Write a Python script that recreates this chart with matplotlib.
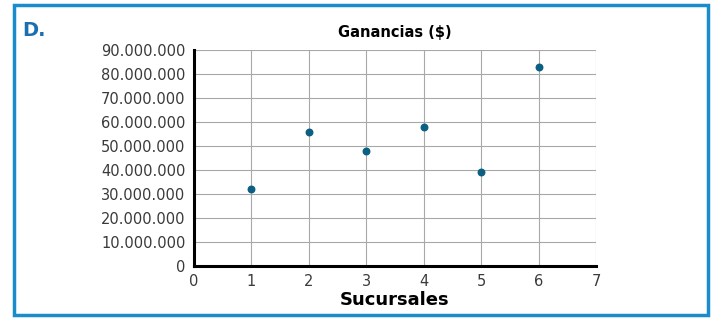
import matplotlib.pyplot as plt
from matplotlib.patches import Rectangle

# data
sucursales = [1, 2, 3, 4, 5, 6]
ganancias = [32000000, 56000000, 48000000, 58000000, 39000000, 83000000]
x_ticks = [0, 1, 2, 3, 4, 5, 6, 7]
y_ticks = [0, 10000000, 20000000, 30000000, 40000000, 50000000,
           60000000, 70000000, 80000000, 90000000]

def fmt(v):
    return '{:,}'.format(v).replace(',', '.')

fig = plt.figure(figsize=(7.16, 3.2), dpi=100)
fig.patch.set_facecolor('white')

# blue frame around the panel
frame = Rectangle((14/716, 5/320), (708-14)/716, (315-5)/320, transform=fig.transFigure,
                  fill=False, edgecolor='#1a8ccc', linewidth=2.5)
fig.add_artist(frame)
fig.text(22/716, 1 - 30/320, 'D.', color='#1a6fb0', fontsize=14, fontweight='bold',
         va='center', ha='left')

ax = fig.add_axes([194/716, 54/320, (596-194)/716, (266-50)/320])
ax.set_xlim(0, 7)
ax.set_ylim(0, 90000000)

ax.scatter(sucursales, ganancias, s=22, color='#0b5f82', zorder=3)

ax.set_xticks(x_ticks)
ax.set_yticks(y_ticks)
ax.set_yticklabels([fmt(v) for v in y_ticks])
ax.grid(True, color='#a8a8a8', linewidth=0.8)
ax.set_axisbelow(True)
for s in ['top', 'right']:
    ax.spines[s].set_visible(False)
for s in ['left', 'bottom']:
    ax.spines[s].set_linewidth(2.2)
ax.tick_params(length=0, labelsize=10.5, colors='#3a3a3a', pad=6)

ax.set_title('Ganancias ($)', fontsize=10.5, fontweight='bold', pad=9)
ax.set_xlabel('Sucursales', fontsize=13, fontweight='bold', labelpad=1)

fig.savefig('out.png', dpi=100)
